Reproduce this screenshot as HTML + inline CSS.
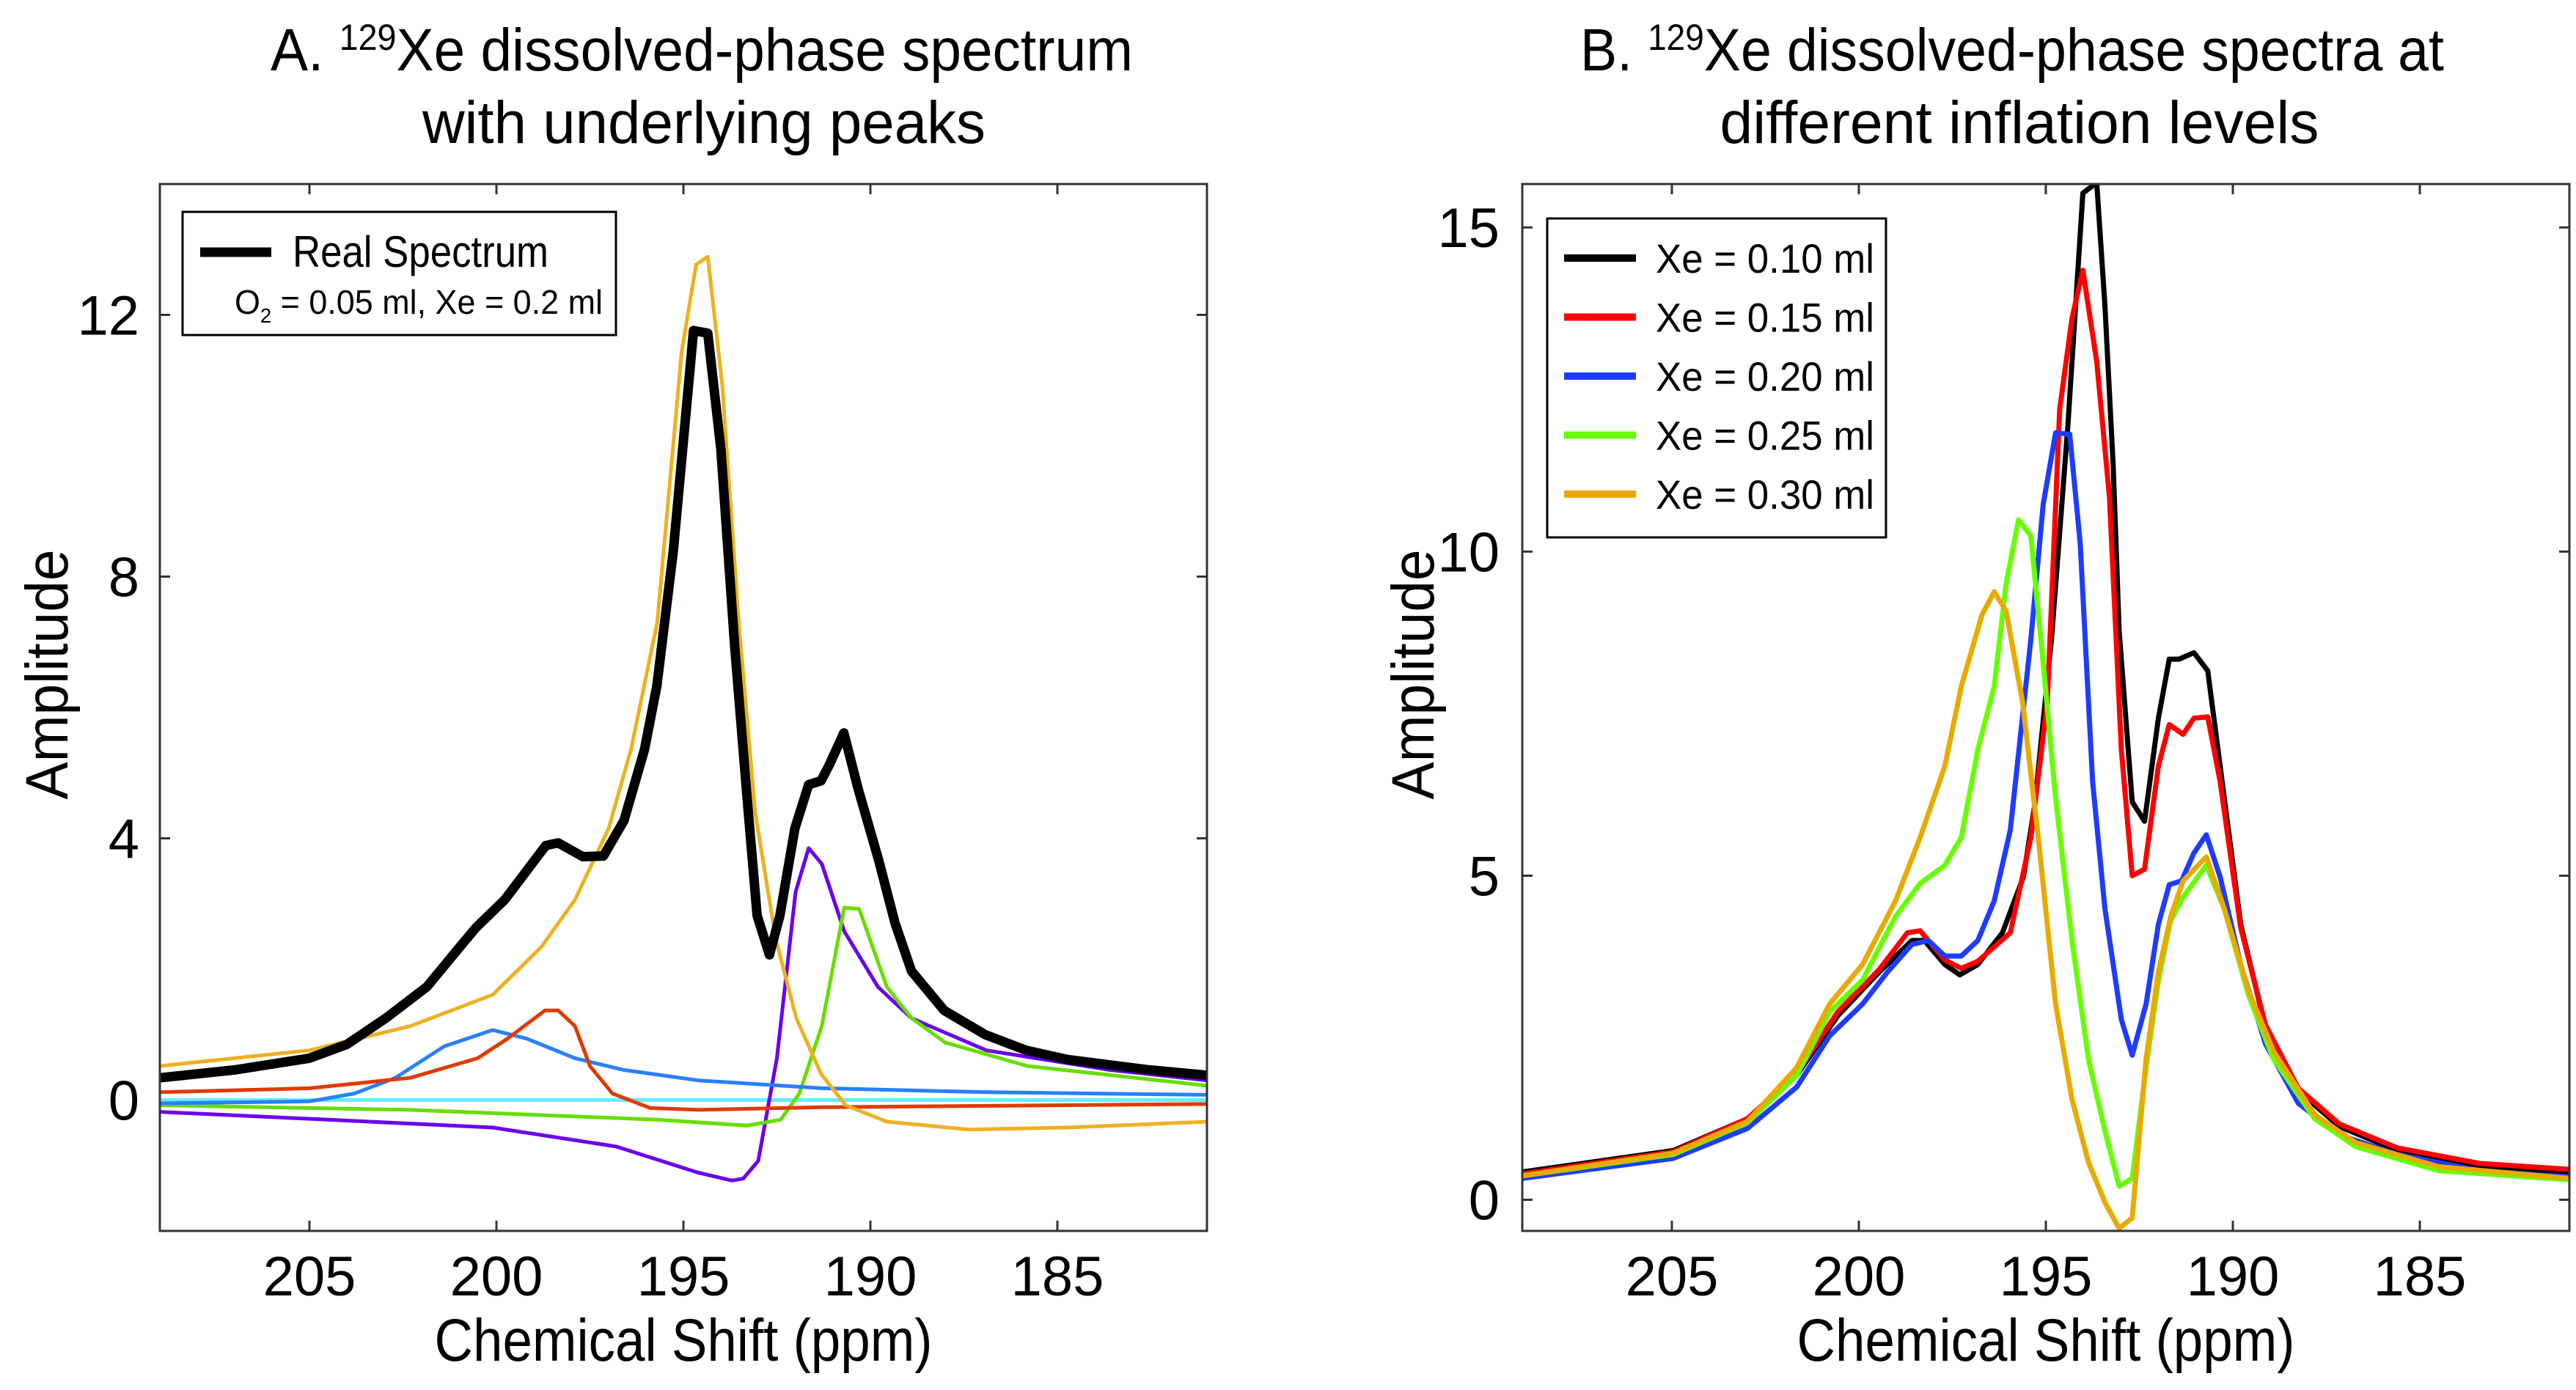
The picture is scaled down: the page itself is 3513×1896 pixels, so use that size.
<!DOCTYPE html>
<html><head><meta charset="utf-8"><style>
html,body{margin:0;padding:0;background:#fff;}
svg{display:block;font-family:"Liberation Sans",sans-serif;}
</style></head><body>
<svg id="fig" width="3513" height="1896" viewBox="0 0 3513 1896" xmlns="http://www.w3.org/2000/svg">
<rect width="3513" height="1896" fill="#fff"/>
<text x="957" y="96" font-size="82" text-anchor="middle" textLength="1176" lengthAdjust="spacingAndGlyphs">A. <tspan font-size="50" dy="-28">129</tspan><tspan dy="28">Xe dissolved-phase spectrum</tspan></text>
<text x="960" y="195" font-size="82" text-anchor="middle" textLength="768" lengthAdjust="spacingAndGlyphs">with underlying peaks</text>
<text x="2744" y="96" font-size="82" text-anchor="middle" textLength="1178" lengthAdjust="spacingAndGlyphs">B. <tspan font-size="50" dy="-28">129</tspan><tspan dy="28">Xe dissolved-phase spectra at</tspan></text>
<text x="2754" y="195" font-size="82" text-anchor="middle" textLength="817" lengthAdjust="spacingAndGlyphs">different inflation levels</text>
<g id="pa"></g>
<g id="pb"></g>
</svg>
<script>
// ---------- Panel A data ----------
const aBlackX=[209,207,205,204,202.96,201.86,200.98,200.54,199.78,198.68,198.35,197.69,197.14,196.59,196.04,195.71,195.27,194.73,194.35,194.0,193.63,193.3,193.03,192.7,192.42,192.02,191.65,191.32,191.1,190.71,190.33,189.78,189.34,188.9,188.03,186.93,185.83,184.73,182.54,181];
const aBlackY=[0.34,0.46,0.64,0.85,1.25,1.73,2.34,2.64,3.06,3.89,3.93,3.72,3.73,4.27,5.36,6.33,8.39,11.76,11.72,9.96,6.94,4.64,2.82,2.22,2.82,4.15,4.82,4.88,5.12,5.61,4.76,3.67,2.7,1.97,1.37,1.0,0.76,0.62,0.46,0.38];
const aOrangeX=[209,205,202.3,200.1,198.8,197.9,197.0,196.4,195.7,195.05,194.66,194.35,193.96,193.52,193.08,192.53,191.98,191.32,190.66,189.56,187.37,184.73,181];
const aOrangeY=[0.52,0.76,1.13,1.61,2.34,3.06,4.15,5.36,7.3,11.42,12.77,12.89,10.93,7.3,4.39,2.46,1.25,0.4,-0.08,-0.33,-0.45,-0.42,-0.33];
const aBlueX=[209,205,203.8,202.7,201.4,200.1,199.2,197.9,196.6,194.6,191.3,186.9,181];
const aBlueY=[-0.05,-0.02,0.1,0.34,0.82,1.07,0.94,0.64,0.46,0.3,0.18,0.12,0.08];
const aRedX=[209,205,202.3,200.5,199.7,198.7,198.35,197.9,197.5,196.9,195.9,194.6,191.3,181];
const aRedY=[0.12,0.18,0.34,0.64,0.94,1.37,1.37,1.13,0.52,0.1,-0.12,-0.15,-0.11,-0.06];
const aCyanX=[209,181];
const aCyanY=[0,0];
const aGreenX=[209,202.3,195.7,193.3,192.4,191.9,191.3,190.7,190.3,189.56,188.9,188.0,185.8,181];
const aGreenY=[-0.08,-0.15,-0.3,-0.39,-0.3,0.1,1.13,2.94,2.92,1.73,1.25,0.88,0.52,0.22];
const aPurpleX=[209,204.5,200.1,196.8,194.6,193.7,193.4,193.0,192.5,192.0,191.65,191.3,190.7,189.8,188.9,186.9,183.6,181];
const aPurpleY=[-0.18,-0.3,-0.42,-0.71,-1.11,-1.23,-1.2,-0.93,0.64,3.18,3.85,3.61,2.58,1.73,1.25,0.76,0.46,0.3];
const aXTicks=[205,200,195,190,185];
const aYTicks=[0,4,8,12];

// ---------- Panel B data ----------
const b10X=[209,204.96,202.98,201.66,200.56,199.46,198.58,198.25,197.7,197.3,196.82,196.16,195.6,195.3,194.85,194.41,194.01,193.64,193.42,193.2,193.04,192.69,192.36,191.99,191.7,191.44,191.04,190.67,190.34,189.79,189.13,188.25,187.15,185.6,183.4,181];
const b10Y=[0.43,0.76,1.25,1.92,2.84,3.51,4.0,4.0,3.63,3.47,3.63,4.12,4.98,6.08,8.65,11.95,15.53,15.69,13.79,11.34,8.77,6.14,5.84,7.43,8.34,8.34,8.44,8.16,6.69,4.25,2.66,1.68,1.13,0.76,0.51,0.43];
const b15X=[209,204.96,202.98,201.66,200.56,199.46,198.7,198.36,197.7,197.26,196.82,195.95,195.4,194.96,194.63,194.3,194.01,193.64,193.3,192.98,192.69,192.36,191.99,191.7,191.33,191.04,190.67,190.34,189.79,189.13,188.25,187.15,185.6,183.4,181];
const b15Y=[0.4,0.74,1.25,1.95,2.9,3.55,4.12,4.15,3.7,3.57,3.68,4.12,5.59,7.67,12.2,13.6,14.34,12.93,10.85,6.94,5.0,5.1,6.69,7.33,7.18,7.43,7.45,6.45,4.2,2.7,1.72,1.17,0.8,0.56,0.47];
const b20X=[209,204.96,202.98,201.66,200.78,199.9,199.24,198.58,198.14,197.7,197.26,196.82,196.38,195.95,195.4,195.07,194.74,194.36,194.08,193.75,193.42,192.98,192.69,192.32,191.99,191.7,191.37,191.04,190.71,190.34,189.79,189.13,188.25,187.15,185.6,183.4,181];
const b20Y=[0.33,0.64,1.1,1.74,2.53,3.02,3.51,3.94,4.0,3.76,3.76,4.0,4.61,5.71,8.65,10.73,11.83,11.81,10.12,6.45,4.49,2.78,2.23,3.02,4.25,4.86,4.92,5.35,5.63,4.98,3.63,2.41,1.49,1.0,0.7,0.45,0.35];
const b25X=[209,204.96,202.98,201.66,200.78,199.9,199.02,198.36,197.7,197.26,196.82,196.38,196.06,195.73,195.4,195.07,194.74,194.3,193.86,193.42,193.04,192.69,192.32,191.99,191.66,191.33,190.71,190.23,189.57,188.91,187.81,186.71,184.5,181];
const b25Y=[0.37,0.7,1.19,1.92,2.9,3.39,4.37,4.88,5.16,5.59,6.94,7.92,9.51,10.49,10.24,8.28,6.2,4.0,2.17,1.06,0.21,0.33,2.04,3.39,4.31,4.67,5.16,4.49,3.14,2.17,1.25,0.82,0.45,0.31];
const b30X=[209,204.96,202.98,201.66,200.78,199.9,199.02,198.36,197.7,197.26,196.71,196.38,196.06,195.62,195.18,194.74,194.3,193.86,193.42,193.04,192.69,192.32,191.99,191.66,191.33,190.71,190.23,189.57,188.91,187.81,186.71,184.5,181];
const b30Y=[0.37,0.72,1.21,2.04,3.02,3.63,4.61,5.59,6.69,7.92,9.02,9.38,9.08,7.67,5.47,3.02,1.55,0.58,-0.04,-0.44,-0.28,2.17,3.51,4.37,4.92,5.29,4.49,3.21,2.29,1.31,0.88,0.51,0.33];
const bXTicks=[205,200,195,190,185];
const bYTicks=[0,5,10,15];
const bLegendLabels=["Xe = 0.10 ml","Xe = 0.15 ml","Xe = 0.20 ml","Xe = 0.25 ml","Xe = 0.30 ml"];

const NS="http://www.w3.org/2000/svg";
function mk(parent,tag,attrs,text){const e=document.createElementNS(NS,tag);for(const k in attrs)e.setAttribute(k,attrs[k]);if(text!==undefined)e.textContent=text;parent.appendChild(e);return e;}

function axes(g,L,R,T,B,xmin,xmax,ymin,ymax,xt,yt,ylabRight,ylabX,prefix){
  const sx=v=>L+(xmax-v)/(xmax-xmin)*(R-L);
  const sy=v=>B-(v-ymin)/(ymax-ymin)*(B-T);
  xt.forEach(t=>{
    const x=sx(t);
    const tk=mk(g,'path',{d:`M${x},${B}V${B-14}M${x},${T}V${T+14}`,stroke:'#333','stroke-width':3});
    
    
    const lb=mk(g,'text',{x:x,y:1767,'font-size':76,'text-anchor':'middle'},String(t));
    
    
  });
  yt.forEach(t=>{
    const y=sy(t);
    const tk=mk(g,'path',{d:`M${L},${y}H${L+14}M${R},${y}H${R-14}`,stroke:'#333','stroke-width':3});
    
    
    const lb=mk(g,'text',{x:ylabRight,y:y+27,'font-size':76,'text-anchor':'end'},String(t));
    
    
  });
  const xl=mk(g,'text',{x:(L+R)/2,y:1856,'font-size':82,'text-anchor':'middle',textLength:679,lengthAdjust:'spacingAndGlyphs'},'Chemical Shift (ppm)');
  
  
  const yl=mk(g,'text',{x:0,y:0,'font-size':82,'text-anchor':'middle',textLength:341,lengthAdjust:'spacingAndGlyphs',transform:`translate(${ylabX},${(T+B)/2-45}) rotate(-90)`},'Amplitude');
  
  
  return {sx,sy};
}
function line(g,clip,sx,sy,X,Y,color,w,name){
  const d=X.map((x,i)=>(i?'L':'M')+sx(x).toFixed(1)+','+sy(Y[i]).toFixed(1)).join('');
  const p=mk(g,'path',{d:d,fill:'none',stroke:color,'stroke-width':w,'stroke-linejoin':'round','clip-path':clip});
  
  
}

// Panel A
(function(){
  const g=document.getElementById('pa');
  const L=218,R=1646,T=251,B=1679;
  const defs=mk(g,'defs',{});const cp=mk(defs,'clipPath',{id:'ca'});mk(cp,'rect',{x:L,y:T,width:R-L,height:B-T});
  const {sx,sy}=axes(g,L,R,T,B,181,209,-2,14,aXTicks,aYTicks,190,92,'panel-a');
  line(g,'url(#ca)',sx,sy,aCyanX,aCyanY,'#66eeff',5,'cyan-peak-line');
  line(g,'url(#ca)',sx,sy,aPurpleX,aPurpleY,'#6a00f0',5,'purple-peak-line');
  line(g,'url(#ca)',sx,sy,aGreenX,aGreenY,'#66dd00',5,'green-peak-line');
  line(g,'url(#ca)',sx,sy,aBlueX,aBlueY,'#2a7fff',5,'blue-peak-line');
  line(g,'url(#ca)',sx,sy,aRedX,aRedY,'#e03a00',5,'red-peak-line');
  line(g,'url(#ca)',sx,sy,aOrangeX,aOrangeY,'#edb120',5,'orange-peak-line');
  line(g,'url(#ca)',sx,sy,aBlackX,aBlackY,'#000',13,'real-spectrum-line');
  const fr=mk(g,'rect',{x:L,y:T,width:R-L,height:B-T,fill:'none',stroke:'#333','stroke-width':3});
  
  
  const lg=mk(g,'g',{});
  
  
  mk(lg,'rect',{x:249,y:289,width:591,height:168,fill:'#fff',stroke:'#000','stroke-width':3});
  mk(lg,'line',{x1:273,y1:344,x2:370,y2:344,stroke:'#000','stroke-width':13});
  const t1=mk(lg,'text',{x:399,y:364,'font-size':60,textLength:349,lengthAdjust:'spacingAndGlyphs'},'Real Spectrum');
  
  
  const t2=mk(lg,'text',{x:320,y:428,'font-size':46,textLength:502,lengthAdjust:'spacingAndGlyphs'});
  
  
  t2.innerHTML='O<tspan font-size="28" dy="12">2</tspan><tspan dy="-12"> = 0.05 ml, Xe = 0.2 ml</tspan>';
})();

// Panel B
(function(){
  const g=document.getElementById('pb');
  const L=2076,R=3504,T=251,B=1679;
  const defs=mk(g,'defs',{});const cp=mk(defs,'clipPath',{id:'cb'});mk(cp,'rect',{x:L,y:T,width:R-L,height:B-T});
  const {sx,sy}=axes(g,L,R,T,B,181,209,-0.48,15.67,bXTicks,bYTicks,2045,1955,'panel-b');
  const series=[[b10X,b10Y,'#000000'],[b15X,b15Y,'#ff0000'],[b20X,b20Y,'#1e3cff'],[b25X,b25Y,'#66ff00'],[b30X,b30Y,'#e8aa00']];
  const names=['xe-0-10-line','xe-0-15-line','xe-0-20-line','xe-0-25-line','xe-0-30-line'];
  series.forEach((s,i)=>line(g,'url(#cb)',sx,sy,s[0],s[1],s[2],7,names[i]));
  const fr=mk(g,'rect',{x:L,y:T,width:R-L,height:B-T,fill:'none',stroke:'#333','stroke-width':3});
  
  
  const lg=mk(g,'g',{});
  
  
  mk(lg,'rect',{x:2110,y:298,width:462,height:435,fill:'#fff',stroke:'#000','stroke-width':3});
  bLegendLabels.forEach((lab,i)=>{
    const y=352+i*80.5;
    const e=mk(lg,'g',{});
    
    
    mk(e,'line',{x1:2133,y1:y,x2:2231,y2:y,stroke:series[i][2],'stroke-width':10});
    mk(e,'text',{x:2258,y:y+20,'font-size':56,textLength:298,lengthAdjust:'spacingAndGlyphs'},lab);
  });
})();
</script>
</body></html>
